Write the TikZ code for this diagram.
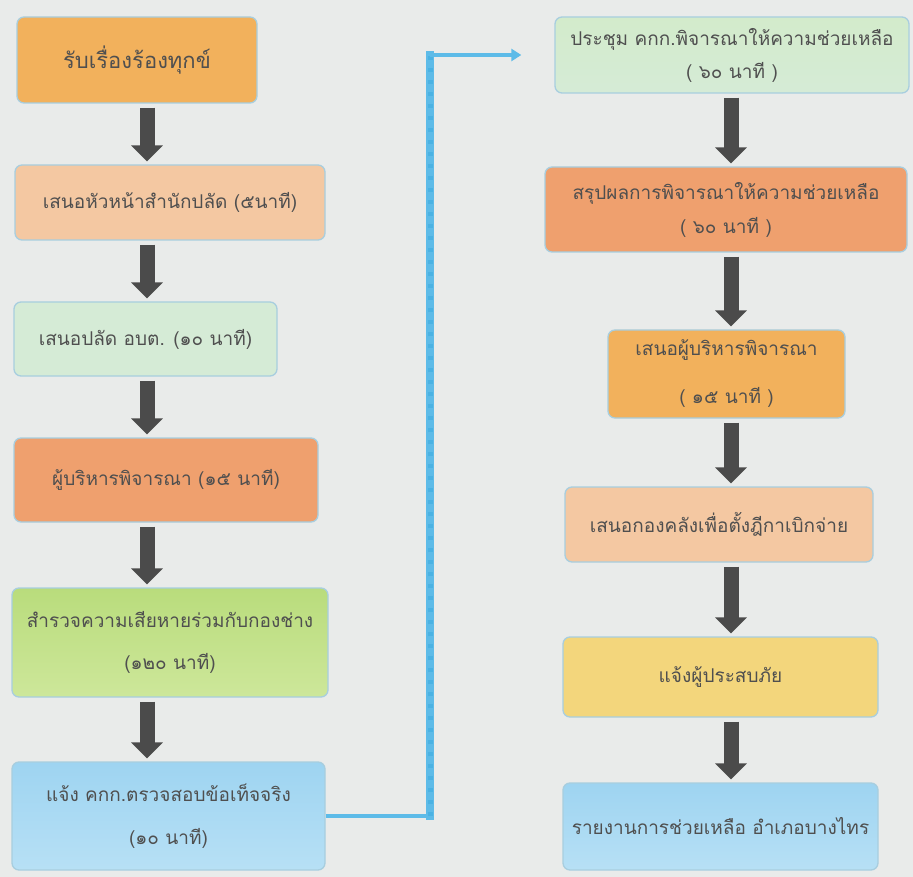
\documentclass[tikz,border=0pt]{standalone}
\usepackage{fontspec}
\newfontfamily\thaifont[Script=Thai]{Loma}
\usetikzlibrary{arrows.meta,calc}
\definecolor{bg}{HTML}{E9EBEA}
\definecolor{boxborder}{HTML}{A8CEDF}
\definecolor{txt}{HTML}{4F4F4F}
\definecolor{arrowgray}{HTML}{4B4B4B}
\definecolor{connblue}{HTML}{5DBBE8}
\definecolor{connblueD}{HTML}{4AB2E3}
\definecolor{cgold}{HTML}{F2B15C}
\definecolor{cpeach}{HTML}{F4C8A2}
\definecolor{cmint}{HTML}{D5EBD6}
\definecolor{csalmon}{HTML}{EFA06E}
\definecolor{clime}{HTML}{B9DC7C}
\definecolor{climeL}{HTML}{CDE79A}
\definecolor{cblue}{HTML}{9ED4F1}
\definecolor{cblueL}{HTML}{B7E0F5}
\definecolor{cgreenL}{HTML}{D3EBCB}
\definecolor{cyellow}{HTML}{F3D67C}
\tikzset{
  stepbox/.style={draw=boxborder, line width=1.3pt, rounded corners=7pt,
    inner sep=0pt, align=center, text=txt,
    font=\thaifont\fontsize{19}{24}\selectfont},
  flowarrow/.style={draw=arrowgray, line width=15pt,
    -{Triangle[width=31pt,length=16pt]}, shorten <=4pt, shorten >=3pt},
  connh/.style={draw=connblue, line width=4.5pt},
  connv/.style={draw=connblue, line width=8pt, line cap=rect},
}
\begin{document}
\begin{tikzpicture}[x=1pt,y=-1pt]
\fill[bg] (0,0) rectangle (913,877);
\useasboundingbox (0,0) rectangle (913,877);
% left column
\node[stepbox, fill=cgold, minimum width=240pt, minimum height=86pt, font=\thaifont\fontsize{22}{26}\selectfont] (L1) at (137,60) {รับเรื่องร้องทุกข์};
\node[stepbox, fill=cpeach, minimum width=310pt, minimum height=75pt] (L2) at (170,202.5) {เสนอหัวหน้าสำนักปลัด (๕นาที)};
\node[stepbox, fill=cmint, minimum width=263pt, minimum height=74pt] (L3) at (145.5,339) {เสนอปลัด อบต. (๑๐ นาที)};
\node[stepbox, fill=csalmon, minimum width=304pt, minimum height=84pt] (L4) at (166,480) {ผู้บริหารพิจารณา (๑๕ นาที)};
\node[stepbox, top color=clime, bottom color=climeL, minimum width=316pt, minimum height=109pt] (L5) at (170,642.5) {สำรวจความเสียหายร่วมกับกองช่าง\\[18pt](๑๒๐ นาที)};
\node[stepbox, top color=cblue, bottom color=cblueL, minimum width=313pt, minimum height=108pt] (L6) at (168.5,816) {แจ้ง คกก.ตรวจสอบข้อเท็จจริง\\[19pt](๑๐ นาที)};
% right column
\node[stepbox, top color=cgreenL, bottom color=cmint, minimum width=354pt, minimum height=76pt] (R1) at (732,55) {ประชุม คกก.พิจารณาให้ความช่วยเหลือ\\[9pt]( ๖๐ นาที )};
\node[stepbox, fill=csalmon, minimum width=362pt, minimum height=85pt] (R2) at (726,209.5) {สรุปผลการพิจารณาให้ความช่วยเหลือ\\[10pt]( ๖๐ นาที )};
\node[stepbox, fill=cgold, minimum width=237pt, minimum height=88pt] (R3) at (726.5,374) {เสนอผู้บริหารพิจารณา\\[24pt]( ๑๕ นาที )};
\node[stepbox, fill=cpeach, minimum width=308pt, minimum height=75pt] (R4) at (719,524.5) {เสนอกองคลังเพื่อตั้งฎีกาเบิกจ่าย};
\node[stepbox, fill=cyellow, minimum width=315pt, minimum height=80pt] (R5) at (720.5,677) {แจ้งผู้ประสบภัย};
\node[stepbox, top color=cblue, bottom color=cblueL, minimum width=315pt, minimum height=87pt] (R6) at (720.5,826.5) {รายงานการช่วยเหลือ อำเภอบางไทร};
% arrow axes
\coordinate (ax) at (147,0);
\coordinate (bx) at (731,0);
\coordinate (cx) at (430,0);
\draw[flowarrow] (L1.south -| ax) -- (L2.north -| ax);
\draw[flowarrow] (L2.south -| ax) -- (L3.north -| ax);
\draw[flowarrow] (L3.south -| ax) -- (L4.north -| ax);
\draw[flowarrow] (L4.south -| ax) -- (L5.north -| ax);
\draw[flowarrow] (L5.south -| ax) -- (L6.north -| ax);
\draw[flowarrow] (R1.south -| bx) -- (R2.north -| bx);
\draw[flowarrow] (R2.south -| bx) -- (R3.north -| bx);
\draw[flowarrow] (R3.south -| bx) -- (R4.north -| bx);
\draw[flowarrow] (R4.south -| bx) -- (R5.north -| bx);
\draw[flowarrow] (R5.south -| bx) -- (R6.north -| bx);
% blue connector
\draw[connh] (L6.east) -- (L6.east -| cx);
\draw[connv] (L6.east -| cx) -- (R1.west -| cx);
\draw[draw=connblueD, line width=5pt, dash pattern=on 4pt off 8pt] (L6.east -| cx) -- (R1.west -| cx);
\draw[connh, -{Triangle[width=12pt,length=10pt]}, shorten >=33pt] (R1.west -| cx) -- (R1.west);
\end{tikzpicture}
\end{document}
